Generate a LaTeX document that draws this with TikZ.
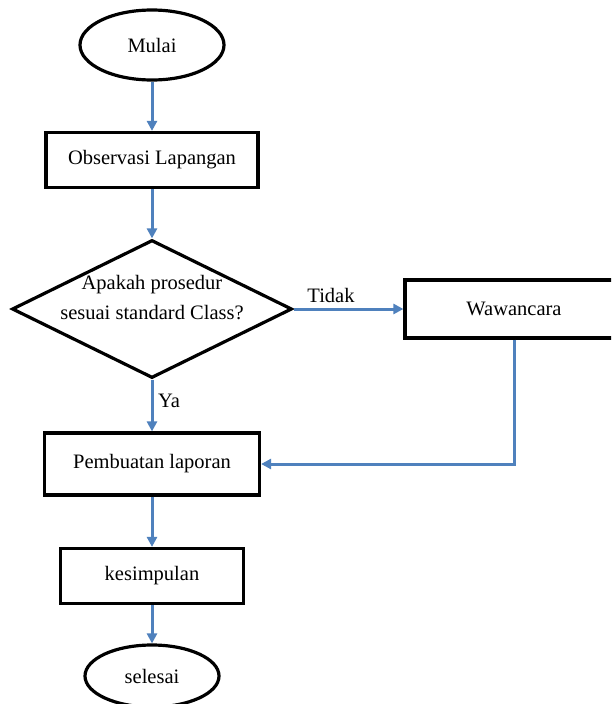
\documentclass[tikz,border=0pt]{standalone}
\usepackage{fontspec}
\setmainfont{Liberation Serif}
\usetikzlibrary{shapes.geometric,arrows.meta}
\definecolor{flowblue}{RGB}{79,129,189}
\begin{document}
\begin{tikzpicture}[x=1pt,y=-1pt,
  every node/.style={font=\fontsize{20.5}{30}\selectfont, text=black},
  box/.style={draw=black, line width=3.2pt, rectangle, inner sep=0pt},
  term/.style={draw=black, line width=3.2pt, ellipse, inner sep=0pt},
  decision/.style={draw=black, line width=3.2pt, diamond, inner sep=0pt},
  flow/.style={draw=flowblue, line width=3pt, -{Triangle[length=10pt,width=10pt]}},
  plainlbl/.style={inner sep=0pt}
]
\useasboundingbox (0,0) rectangle (611,704);
\clip (0,0) rectangle (611,704);
\fill[white] (0,0) rectangle (611,704);

\node[term, minimum width=144, minimum height=70] (mulai) at (152,45) {Mulai};
\node[box, minimum width=212, minimum height=55] (obs) at (152,160) {Observasi Lapangan};
\node[decision, minimum width=280, minimum height=138] (dec) at (152,309) {};
\node[plainlbl, align=center] (dectxt) at (152,298) {Apakah prosedur\\sesuai standard Class?};
\node[box, minimum width=218, minimum height=58] (wawan) at (514,309) {Wawancara};
\node[box, minimum width=215, minimum height=62] (lap) at (152,464) {Pembuatan laporan};
\node[box, minimum width=183, minimum height=55] (kes) at (152,576) {kesimpulan};
\node[term, minimum width=134, minimum height=62] (selesai) at (152,676) {selesai};

\node[plainlbl] (tidak) at (331,295) {Tidak};
\node[plainlbl] (ya) at (169,401) {Ya};

\draw[flow] (mulai.south) -- (obs.north);
\draw[flow] (obs.south) -- (dec.north);
\draw[flow] (dec.east) -- (wawan.west);
\draw[flow] (dec.south) -- (lap.north);
\draw[flow] (wawan.south) |- (lap.east);
\draw[flow] (lap.south) -- (kes.north);
\draw[flow] (kes.south) -- (selesai.north);
\end{tikzpicture}
\end{document}
